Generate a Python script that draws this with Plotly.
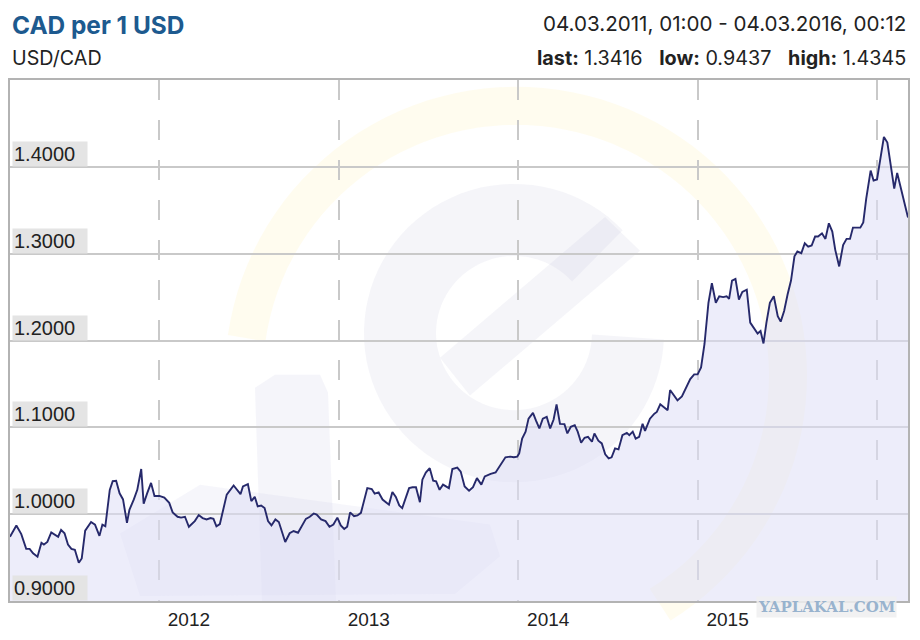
import numpy as np
import pandas as pd
import plotly.graph_objects as go

# --- data (weekly-ish USD/CAD closes) ---
dates = [
    "2011-03-04", "2011-03-17", "2011-03-27", "2011-04-06", "2011-04-13", "2011-04-20", "2011-04-29",
    "2011-05-07", "2011-05-12", "2011-05-19", "2011-05-27", "2011-06-03", "2011-06-10", "2011-06-16",
    "2011-06-23", "2011-06-30", "2011-07-07", "2011-07-14", "2011-07-22", "2011-07-28", "2011-08-04",
    "2011-08-16", "2011-08-24", "2011-09-02", "2011-09-08", "2011-09-14", "2011-09-23", "2011-09-29",
    "2011-10-06", "2011-10-13", "2011-10-20", "2011-10-28", "2011-11-02", "2011-11-11", "2011-11-18",
    "2011-11-26", "2011-12-01", "2011-12-08", "2011-12-16", "2011-12-23",
    "2012-01-02", "2012-01-12", "2012-01-22", "2012-01-29", "2012-02-08", "2012-02-15", "2012-02-23",
    "2012-03-02", "2012-03-10", "2012-03-14", "2012-03-22", "2012-03-30", "2012-04-07", "2012-04-15",
    "2012-04-21", "2012-04-27", "2012-05-04", "2012-05-18", "2012-06-01", "2012-06-15", "2012-06-20",
    "2012-06-30", "2012-07-07", "2012-07-14", "2012-07-20", "2012-07-27", "2012-08-03", "2012-08-10",
    "2012-08-17", "2012-08-25", "2012-09-01", "2012-09-06", "2012-09-14", "2012-09-23", "2012-10-01",
    "2012-10-10", "2012-10-17", "2012-10-26", "2012-11-03", "2012-11-11", "2012-11-17", "2012-11-26",
    "2012-12-05", "2012-12-13", "2012-12-21", "2012-12-29",
    "2013-01-05", "2013-01-12", "2013-01-18", "2013-01-24", "2013-02-01", "2013-02-08", "2013-02-15",
    "2013-02-28", "2013-03-09", "2013-03-15", "2013-03-23", "2013-03-31", "2013-04-10", "2013-04-13",
    "2013-04-20", "2013-04-27", "2013-05-04", "2013-05-10", "2013-05-24", "2013-05-31", "2013-06-07",
    "2013-06-15", "2013-06-20", "2013-06-27", "2013-07-05", "2013-07-12", "2013-07-18", "2013-07-25",
    "2013-08-01", "2013-08-13", "2013-08-20", "2013-08-30", "2013-09-06", "2013-09-14", "2013-09-23",
    "2013-10-01", "2013-10-09", "2013-10-18", "2013-10-25", "2013-11-06", "2013-11-16", "2013-11-26",
    "2013-12-06", "2013-12-16", "2013-12-23", "2013-12-30",
    "2014-01-03", "2014-01-09", "2014-01-16", "2014-01-22", "2014-01-31", "2014-02-06", "2014-02-13",
    "2014-02-20", "2014-02-28", "2014-03-07", "2014-03-14", "2014-03-20", "2014-03-27", "2014-04-05",
    "2014-04-11", "2014-04-18", "2014-04-26", "2014-05-02", "2014-05-09", "2014-05-16", "2014-05-23",
    "2014-05-31", "2014-06-05", "2014-06-13", "2014-06-20", "2014-06-27", "2014-07-04", "2014-07-10",
    "2014-07-17", "2014-07-24", "2014-08-01", "2014-08-10", "2014-08-15", "2014-08-22", "2014-08-28",
    "2014-09-04", "2014-09-11", "2014-09-16", "2014-09-26", "2014-10-05", "2014-10-10", "2014-10-17",
    "2014-10-25", "2014-11-01", "2014-11-06", "2014-11-13", "2014-11-21", "2014-11-30", "2014-12-08",
    "2014-12-17", "2014-12-25",
    "2015-01-01", "2015-01-08", "2015-01-15", "2015-01-23", "2015-01-30", "2015-02-07", "2015-02-14",
    "2015-02-22", "2015-03-01", "2015-03-06", "2015-03-12", "2015-03-19", "2015-03-26", "2015-04-02",
    "2015-04-11", "2015-04-18", "2015-04-26", "2015-05-03", "2015-05-09", "2015-05-15", "2015-05-21",
    "2015-05-28", "2015-06-05", "2015-06-13", "2015-06-19", "2015-06-26", "2015-07-03", "2015-07-10",
    "2015-07-17", "2015-07-23", "2015-07-31", "2015-08-07", "2015-08-14", "2015-08-21", "2015-08-28",
    "2015-09-03", "2015-09-11", "2015-09-18", "2015-09-25", "2015-10-02", "2015-10-08", "2015-10-16",
    "2015-10-24", "2015-10-31", "2015-11-07", "2015-11-13", "2015-11-22", "2015-11-28", "2015-12-04",
    "2015-12-10", "2015-12-19", "2015-12-25",
    "2016-01-01", "2016-01-08", "2016-01-15", "2016-01-22", "2016-01-28", "2016-02-05", "2016-02-11",
    "2016-02-18", "2016-02-25", "2016-03-04",
]

usd_cad = [
    0.974, 0.987, 0.977, 0.960, 0.960, 0.955, 0.951,
    0.967, 0.965, 0.968, 0.979, 0.976, 0.974, 0.982,
    0.978, 0.965, 0.960, 0.959, 0.944, 0.949, 0.981,
    0.991, 0.988, 0.975, 0.988, 0.986, 1.028, 1.038,
    1.0385, 1.024, 1.017, 0.990, 1.005, 1.017, 1.028,
    1.052, 1.012, 1.024, 1.036, 1.021,
    1.021, 1.019, 1.013, 1.002, 0.997, 0.996, 0.997,
    0.9855, 0.990, 0.992, 0.999, 0.9955, 0.994, 0.9955,
    0.9946, 0.986, 0.9886, 1.0225, 1.033, 1.023, 1.032,
    1.0346, 1.015, 1.020, 1.009, 1.010, 1.007, 0.992,
    0.987, 0.994, 0.991, 0.9825, 0.968, 0.978, 0.9806,
    0.9786, 0.9855, 0.9946, 0.997, 1.0008, 0.9996, 0.994,
    0.992, 0.9855, 0.988, 0.996,
    0.987, 0.983, 0.9855, 1.002, 0.9977, 0.9985, 1.0015,
    1.030, 1.029, 1.0237, 1.025, 1.0168, 1.0122, 1.011,
    1.0255, 1.0198, 1.010, 1.007, 1.030, 1.031, 1.031,
    1.0137, 1.0397, 1.048, 1.053, 1.0385, 1.0377, 1.028,
    1.034, 1.030, 1.052, 1.0537, 1.049, 1.032, 1.027,
    1.031, 1.0415, 1.034, 1.0434, 1.0465, 1.048, 1.057,
    1.0655, 1.0663, 1.0655, 1.0663,
    1.070, 1.087, 1.095, 1.110, 1.1166, 1.108, 1.0987,
    1.110, 1.112, 1.0987, 1.109, 1.1265, 1.104, 1.1037,
    1.093, 1.1006, 1.1025, 1.095, 1.0823, 1.088, 1.089,
    1.0834, 1.093, 1.0846, 1.0815, 1.069, 1.0643, 1.0655,
    1.0758, 1.0746, 1.091, 1.0937, 1.091, 1.095, 1.087,
    1.089, 1.104, 1.096, 1.110, 1.1158, 1.1177, 1.1265,
    1.1226, 1.1197, 1.143, 1.138, 1.131, 1.1357, 1.146,
    1.1555, 1.161,
    1.161, 1.169, 1.196, 1.2434, 1.266, 1.2434, 1.251,
    1.250, 1.251, 1.248, 1.269, 1.271, 1.2472, 1.256,
    1.2586, 1.2206, 1.214, 1.208, 1.211, 1.1966, 1.2206,
    1.2434, 1.251, 1.228, 1.2217, 1.234, 1.253, 1.269,
    1.297, 1.3025, 1.3006, 1.312, 1.308, 1.3094, 1.3197,
    1.3197, 1.3234, 1.317, 1.335, 1.3254, 1.3044, 1.2853,
    1.310, 1.317, 1.317, 1.330, 1.330, 1.330, 1.336,
    1.3634, 1.3957, 1.3843,
    1.3855, 1.413, 1.4345, 1.428, 1.4054, 1.3749, 1.393,
    1.3768, 1.3577, 1.3416,
]

y_ticks = [0.9, 1.0, 1.1, 1.2, 1.3, 1.4]
year_ticks = ["2012-01-01", "2013-01-01", "2014-01-01", "2015-01-01", "2016-01-01"]
year_labels = ["2012", "2013", "2014", "2015", ""]

title = "CAD per 1 USD"
subtitle = "USD/CAD"
period = "04.03.2011, 01:00 - 04.03.2016, 00:12"
stats = [("last", "1.3416"), ("low", "0.9437"), ("high", "1.4345")]

FONT = "Liberation Sans"
HEAD_FONT = "Inter"

# page is 920x640 but the browser body keeps an 8px margin
PAGE_W, PAGE_H, BODY = 920, 640, 8
W, H = PAGE_W - 2 * BODY, PAGE_H - 2 * BODY

# plot area in page pixels
L, R, T, B = 10, 908, 80, 605


def px(x):
    return (x - L) / (R - L)


def py(y):
    return (B - y) / (B - T)


def arc_path(cx, cy, r, a0, a1, n=80):
    # polyline arc in page pixels, converted to paper coords (angles in degrees, ccw)
    ang = np.radians(np.linspace(a0, a1, n))
    xs = cx + r * np.cos(ang)
    ys = cy - r * np.sin(ang)
    pts = [f"{px(a):.4f},{py(b):.4f}" for a, b in zip(xs, ys)]
    return "M" + " L".join(pts)


def poly_path(points):
    return "M" + " L".join(f"{px(a):.4f},{py(b):.4f}" for a, b in points) + " Z"


x = pd.to_datetime(dates)

fig = go.Figure()
fig.add_trace(
    go.Scatter(
        x=x,
        y=usd_cad,
        mode="lines",
        line=dict(color="#26296b", width=1.9),
        fill="tozeroy",
        fillcolor="rgba(222,222,245,0.55)",
        hoverinfo="x+y",
        showlegend=False,
    )
)

# --- faint watermark (yellow ring, big "e", lower-left bars) ---
wm = []
wm.append(dict(type="path", path=arc_path(516, 378, 272, 172, -58),
               line=dict(color="rgba(255,236,150,0.15)", width=38)))
wm.append(dict(type="path", path=arc_path(514, 335, 114, 43, 358),
               line=dict(color="rgba(195,195,222,0.17)", width=72)))
wm.append(dict(type="path", path=poly_path([(440, 360), (470, 398), (640, 252), (605, 218)]),
               fillcolor="rgba(195,195,222,0.17)", line=dict(width=0)))
wm.append(dict(type="path", path=poly_path([(255, 390), (275, 377), (320, 377), (328, 395), (336, 605), (262, 605)]),
               fillcolor="rgba(195,195,225,0.16)", line=dict(width=0)))
wm.append(dict(type="path", path=poly_path([(120, 537), (200, 488), (490, 528), (500, 560), (455, 598), (140, 600)]),
               fillcolor="rgba(195,195,225,0.15)", line=dict(width=0)))
for s in wm:
    s.update(xref="paper", yref="paper", layer="below")
    fig.add_shape(**s)

# --- header texts ---
ann = [
    dict(text=f"<b>{title}</b>", x=px(10), y=py(25), xanchor="left",
         font=dict(size=24.4, color="#1d5a8f", family=HEAD_FONT)),
    dict(text=subtitle, x=px(10), y=py(58), xanchor="left",
         font=dict(size=19.7, color="#222222", family=HEAD_FONT)),
    dict(text=period, x=px(908), y=py(23), xanchor="right",
         font=dict(size=20.6, color="#222222", family=HEAD_FONT)),
    dict(text="\u00a0\u00a0\u00a0".join(f"<b>{k}:</b> {v}" for k, v in stats),
         x=px(908), y=py(58), xanchor="right",
         font=dict(size=19.8, color="#222222", family=HEAD_FONT)),
]
for a in ann:
    a.update(xref="paper", yref="paper", yanchor="middle", showarrow=False)
    fig.add_annotation(**a)

# y tick labels sitting on top of their gridlines, in grey boxes
for v in y_ticks:
    fig.add_annotation(
        text=f"{v:.4f}", x=px(12), y=v, xref="paper", yref="y",
        xanchor="left", yanchor="bottom", showarrow=False, align="left",
        width=72, height=22, borderpad=1, bgcolor="#e4e4e4",
        font=dict(size=20, color="#222222", family=FONT),
    )

fig.add_annotation(
    text="<b>YAPLAKAL.COM</b>", x=px(756), y=py(611), xref="paper", yref="paper",
    xanchor="left", yanchor="middle", showarrow=False,
    bgcolor="rgba(238,238,240,0.85)", borderpad=1,
    font=dict(size=15, color="#98b3ce", family="DejaVu Serif"),
)

fig.update_layout(
    width=W,
    height=H,
    margin=dict(l=L - BODY, r=W - (R - BODY), t=T - BODY, b=H - (B - BODY)),
    paper_bgcolor="white",
    plot_bgcolor="rgba(0,0,0,0)",
    font=dict(family=FONT, color="#222222"),
    showlegend=False,
    xaxis=dict(
        range=["2011-03-04 01:00", "2016-03-04 00:12"],
        tickvals=year_ticks,
        ticktext=year_labels,
        ticks="",
        ticklabelshift=30,
        tickfont=dict(size=19, color="#222222"),
        showgrid=True,
        gridcolor="#c9c9c9",
        gridwidth=1.5,
        griddash="20px,20px",
        showline=True,
        mirror=True,
        linecolor="#b3b3b3",
        linewidth=2,
        zeroline=False,
    ),
    yaxis=dict(
        range=[0.9, 1.5],
        tickvals=y_ticks,
        showticklabels=False,
        ticks="",
        showgrid=True,
        gridcolor="#c9c9c9",
        gridwidth=1.5,
        showline=True,
        mirror=True,
        linecolor="#b3b3b3",
        linewidth=2,
        zeroline=False,
    ),
)

fig.write_html("out.html")
